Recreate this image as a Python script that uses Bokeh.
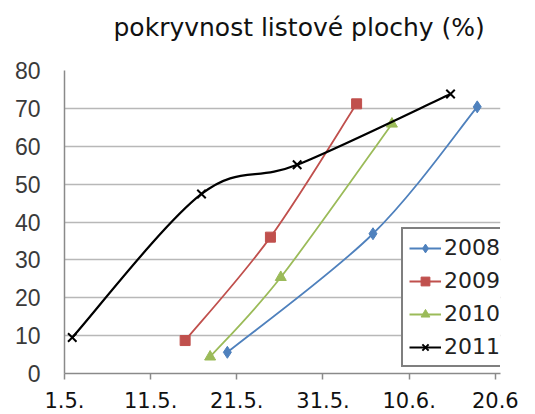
from bokeh.plotting import figure
from bokeh.models import FixedTicker, Legend, LegendItem, Range1d, Title
from bokeh.embed import file_html
from bokeh.resources import INLINE

# ---- data (x = days after 1 May) ----
title_text = "pokryvnost listové plochy (%)"
tick_days = [0, 10, 20, 30, 40, 50]
tick_labels = ["1.5.", "11.5.", "21.5.", "31.5.", "10.6.", "20.6"]
y_ticks = [0, 10, 20, 30, 40, 50, 60, 70, 80]

years = ["2008", "2009", "2010", "2011"]
x_2008 = [18.9, 35.8, 47.9]
y_2008 = [5.6, 36.9, 70.4]
x_2009 = [14.0, 23.9, 33.9]
y_2009 = [8.7, 36.0, 71.2]
x_2010 = [16.9, 25.1, 38.0]
y_2010 = [4.4, 25.4, 65.9]
x_2011 = [0.9, 15.9, 27.0, 44.8]
y_2011 = [9.5, 47.4, 55.1, 73.8]

colors = ["#4F81BD", "#C0504D", "#9BBB59", "#000000"]
markers = ["diamond", "square", "triangle", "x"]
marker_sizes = [12, 10, 11, 12]
line_widths = [1.8, 1.8, 1.8, 2.2]
series = [(x_2008, y_2008), (x_2009, y_2009), (x_2010, y_2010), (x_2011, y_2011)]


def smooth(xs, ys, t=1.0 / 6.0):
    n = len(xs)
    seg = dict(x0=[], y0=[], x1=[], y1=[], cx0=[], cy0=[], cx1=[], cy1=[])
    for i in range(n - 1):
        ip = max(i - 1, 0)
        inx = min(i + 2, n - 1)
        seg["x0"].append(xs[i]); seg["y0"].append(ys[i])
        seg["x1"].append(xs[i + 1]); seg["y1"].append(ys[i + 1])
        seg["cx0"].append(xs[i] + (xs[i + 1] - xs[ip]) * t)
        seg["cy0"].append(ys[i] + (ys[i + 1] - ys[ip]) * t)
        seg["cx1"].append(xs[i + 1] - (xs[inx] - xs[i]) * t)
        seg["cy1"].append(ys[i + 1] - (ys[inx] - ys[i]) * t)
    return seg


p = figure(width=535, height=414, output_backend="svg", toolbar_location=None,
           x_range=Range1d(0, 50.6), y_range=Range1d(0, 80),
           min_border_left=64, min_border_right=35, min_border_top=70,
           min_border_bottom=41)

# spacer between frame and title (keeps the title higher up)
spacer = Title(text=" ", text_font_size="10px", standoff=16)
p.add_layout(spacer, "above")

p.title.text = title_text
p.title.align = "left"
p.title.offset = 49
p.title.standoff = 0
p.title.text_font = "DejaVu Sans"
p.title.text_font_size = "25px"
p.title.text_font_style = "normal"
p.title.text_color = "#111111"

p.outline_line_color = None
p.background_fill_color = "white"
p.border_fill_color = "white"

p.xgrid.grid_line_color = None
p.ygrid.grid_line_color = "#b8b8b8"
p.ygrid.grid_line_width = 1.5
p.ygrid.ticker = FixedTicker(ticks=y_ticks)
p.xgrid.ticker = FixedTicker(ticks=tick_days)

p.xaxis.ticker = FixedTicker(ticks=tick_days)
p.xaxis.major_label_overrides = {d: l for d, l in zip(tick_days, tick_labels)}
p.xaxis.major_label_text_font = "DejaVu Sans"
p.xaxis.major_label_text_font_size = "21px"
p.xaxis.major_label_text_color = "#111111"
p.xaxis.major_label_standoff = 12
p.xaxis.major_tick_out = 6
p.xaxis.major_tick_in = 0
p.xaxis.minor_tick_line_color = None
p.xaxis.axis_line_color = "#8a8a8a"
p.xaxis.major_tick_line_color = "#8a8a8a"
p.xaxis.axis_line_width = 1.5
p.xaxis.major_tick_line_width = 1.5

p.yaxis.ticker = FixedTicker(ticks=y_ticks)
p.yaxis.major_label_text_font = "Liberation Sans"
p.yaxis.major_label_text_font_size = "23px"
p.yaxis.major_label_text_color = "#3a3a3a"
p.yaxis.major_label_standoff = 24
p.yaxis.major_tick_out = 0
p.yaxis.major_tick_in = 0
p.yaxis.minor_tick_line_color = None
p.yaxis.axis_line_color = "#8a8a8a"
p.yaxis.axis_line_width = 1.5

items = []
for (xs, ys), yr, c, m, ms, lw in zip(series, years, colors, markers, marker_sizes, line_widths):
    seg = smooth(xs, ys)
    p.bezier(x0="x0", y0="y0", x1="x1", y1="y1", cx0="cx0", cy0="cy0",
             cx1="cx1", cy1="cy1", source=seg, line_color=c, line_width=lw)
    sc = p.scatter(xs, ys, marker=m, size=ms, fill_color=c, line_color=c,
                   line_width=2 if m == "x" else 1)
    key_line = p.line(xs[:1], ys[:1], line_color=c, line_width=lw)
    items.append(LegendItem(label=yr, renderers=[key_line, sc]))

legend = Legend(items=items, location=(337, 6), orientation="vertical")
legend.label_text_font = "DejaVu Sans"
legend.label_text_font_size = "22px"
legend.label_text_color = "#222222"
legend.glyph_width = 32
legend.glyph_height = 22
legend.label_height = 22
legend.label_width = 77
legend.label_standoff = 3
legend.spacing = 8
legend.padding = 6
legend.margin = 0
legend.border_line_color = "black"
legend.border_line_width = 2
legend.background_fill_color = "white"
legend.background_fill_alpha = 1
p.add_layout(legend, "center")

open("out.html", "w").write(file_html(p, INLINE))
